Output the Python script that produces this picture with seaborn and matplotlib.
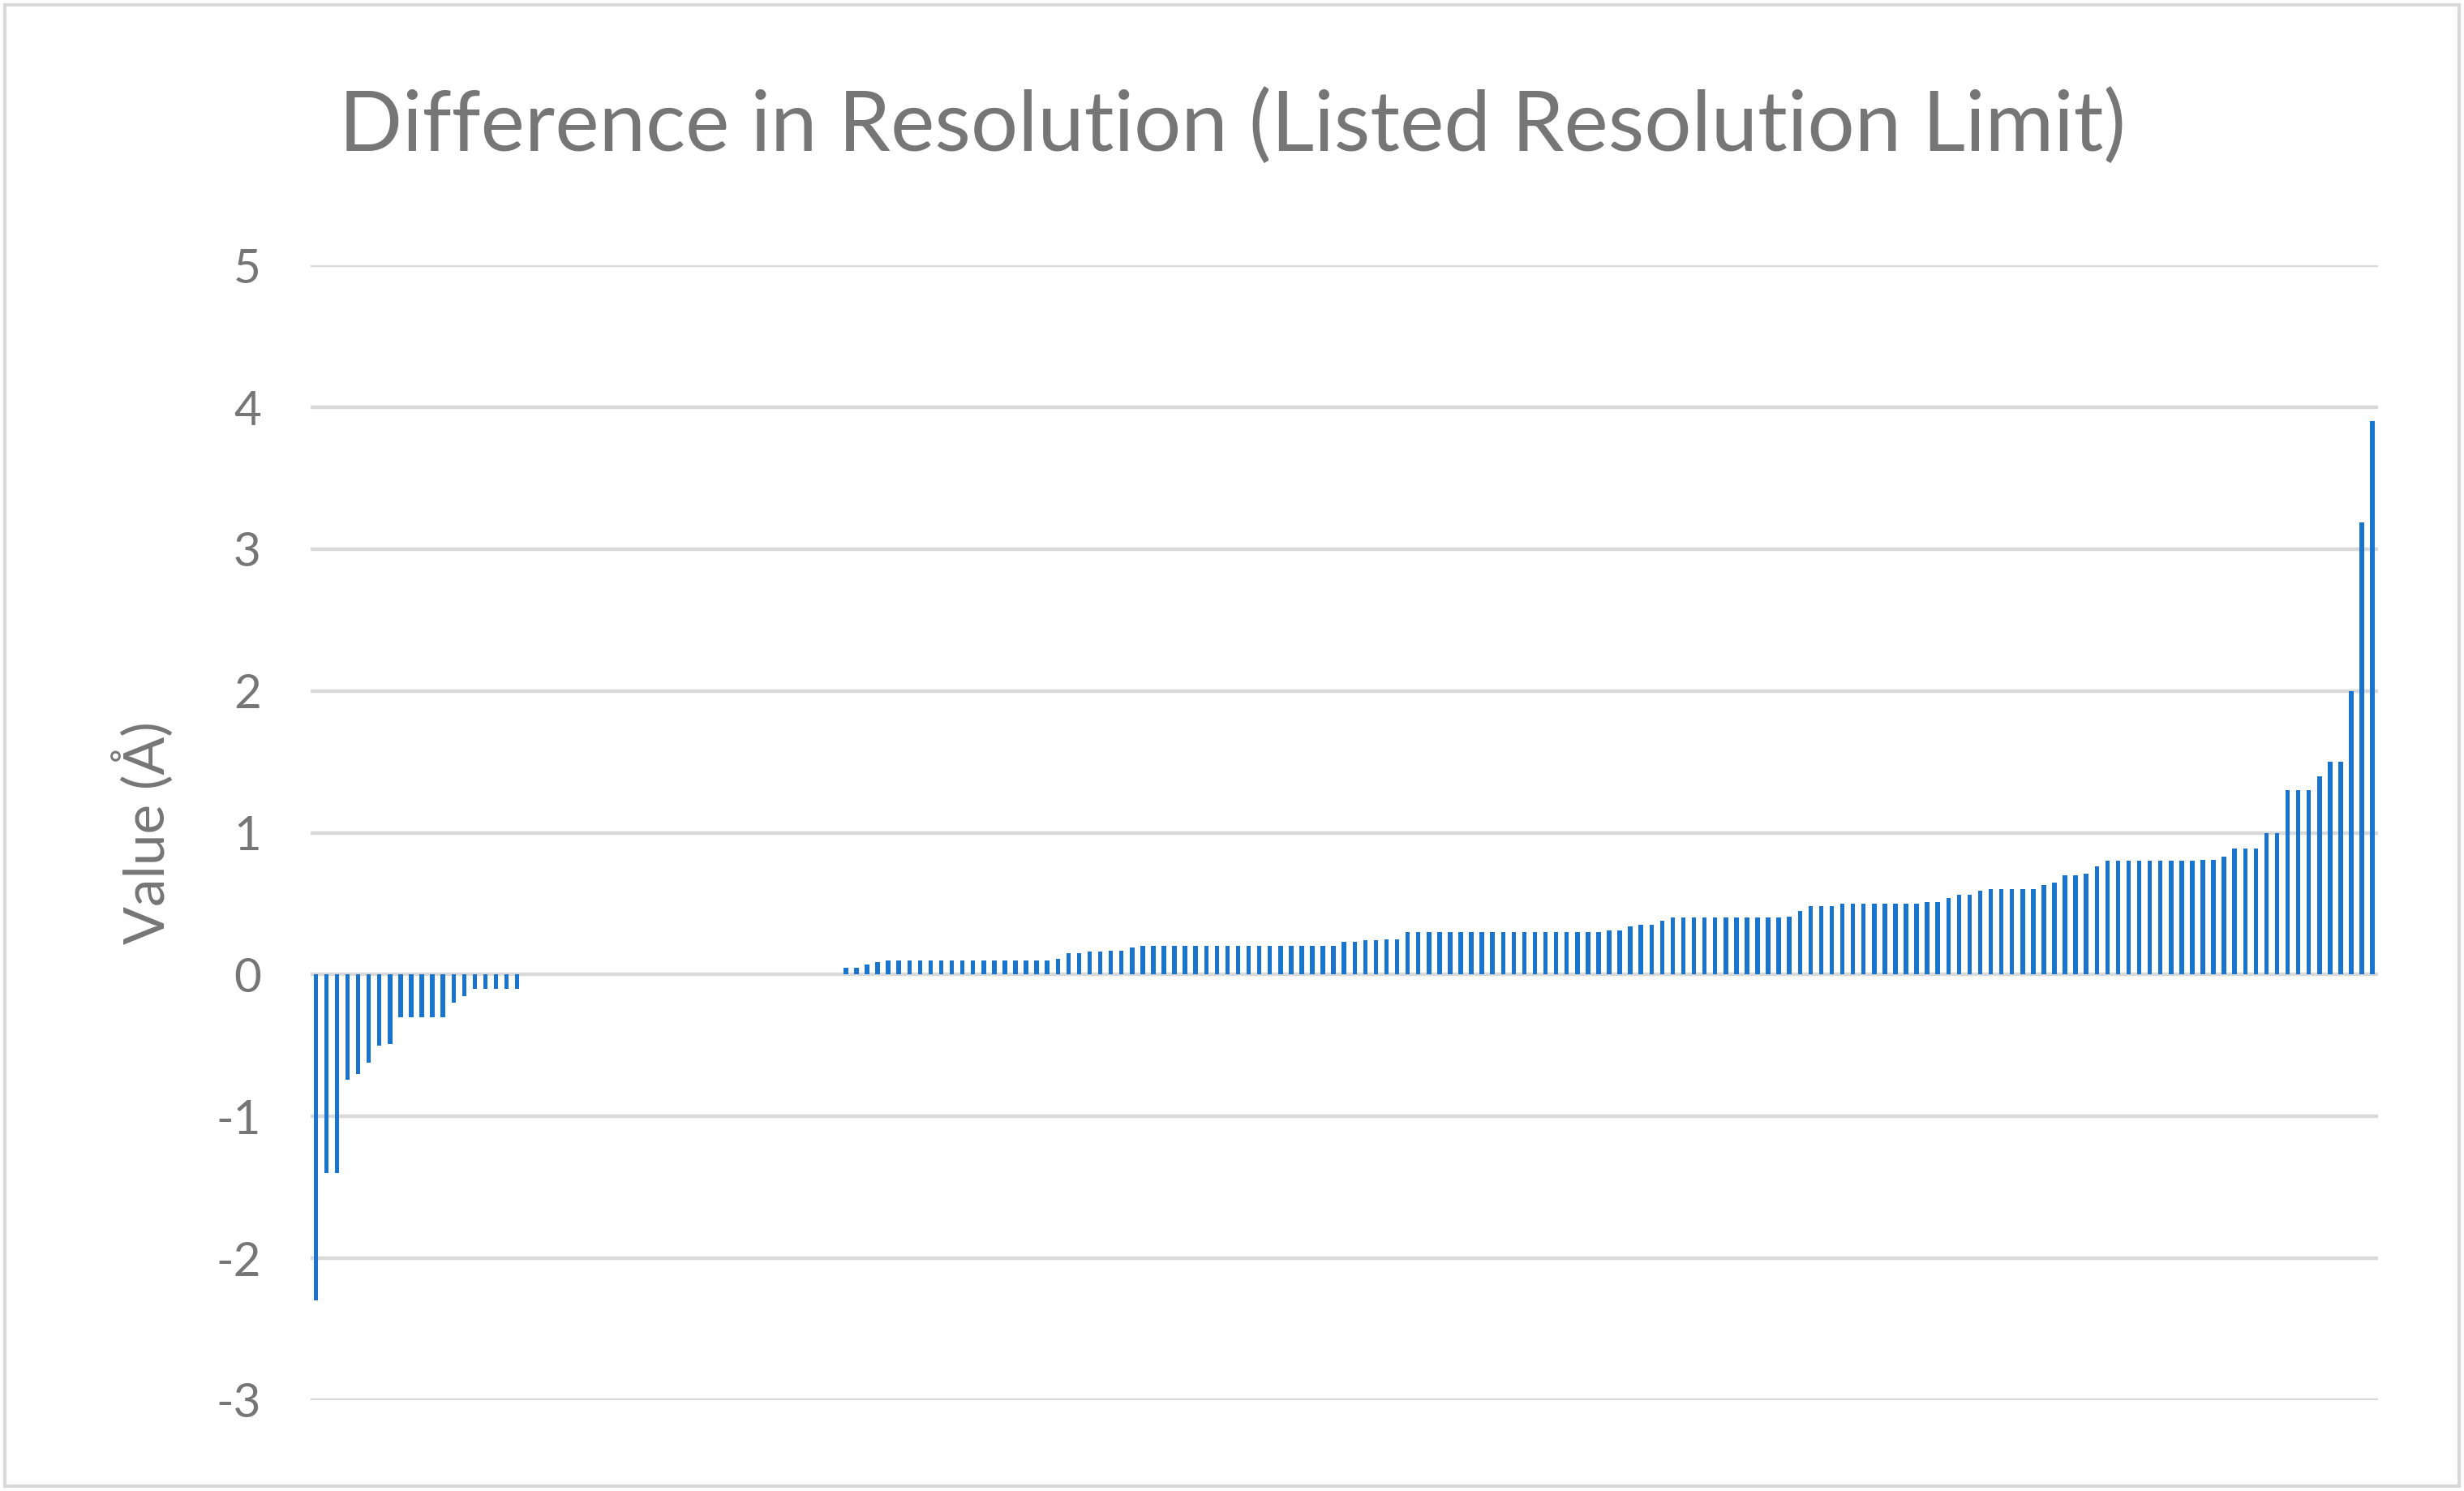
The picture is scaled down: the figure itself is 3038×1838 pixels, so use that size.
import matplotlib
matplotlib.use("Agg")
import matplotlib.pyplot as plt
import seaborn as sns
import pandas as pd
import numpy as np

negative_values = [-2.3, -1.4, -1.4, -0.74, -0.70, -0.62, -0.50, -0.49,
                   -0.3, -0.3, -0.3, -0.3, -0.3, -0.2, -0.15,
                   -0.1, -0.1, -0.1, -0.1, -0.1]
zero_values = [0.0] * 30
low_values = ([0.05, 0.05, 0.07, 0.09] + [0.1] * 16 + [0.11, 0.15, 0.15, 0.16, 0.16,
              0.17, 0.17, 0.19] + [0.2] * 19)
mid_values = ([0.23, 0.23, 0.24, 0.24, 0.25, 0.25] + [0.3] * 19 + [0.31, 0.31, 0.34,
              0.35, 0.35, 0.38] + [0.4] * 11 + [0.41, 0.45, 0.48, 0.48, 0.48])
high_values = ([0.5] * 8 + [0.51, 0.51, 0.54, 0.56, 0.56, 0.59] + [0.6] * 5 +
               [0.63, 0.65, 0.70, 0.70, 0.71, 0.76] + [0.8] * 9 +
               [0.81, 0.81, 0.83, 0.89, 0.89, 0.89, 1.0, 1.0, 1.3, 1.3, 1.3,
                1.4, 1.5, 1.5, 2.0, 3.19, 3.9])
values = negative_values + zero_values + low_values + mid_values + high_values
y_ticks = [-3, -2, -1, 0, 1, 2, 3, 4, 5]

df = pd.DataFrame({"idx": np.arange(len(values)), "value": values})

sns.set_theme(style="white")
plt.rcParams["font.family"] = ["Lato", "DejaVu Sans"]
text_color = "#767676"

fig = plt.figure(figsize=(15.19, 9.19), dpi=200)
ax = fig.add_axes([0.126, 0.061, 0.839, 0.761])
sns.barplot(data=df, x="idx", y="value", color="#1874cd", saturation=1,
            width=0.42, linewidth=0, ax=ax, zorder=3)
ax.set_ylim(-3, 5)
ax.set_yticks(y_ticks)
ax.set_yticklabels([str(t) for t in y_ticks], fontsize=21, color=text_color)
ax.tick_params(axis="y", length=0, pad=22)
ax.set_xticks([])
ax.set_xlabel("")
ax.set_ylabel("Value (Å)", fontsize=25, color=text_color, labelpad=18)
ax.grid(axis="y", color="#d9d9d9", linewidth=1.6, zorder=0)
ax.set_axisbelow(True)
for s in ax.spines.values():
    s.set_visible(False)

fig.text(0.5, 0.915, "Difference in Resolution (Listed Resolution Limit)",
         ha="center", va="center", fontsize=37, color=text_color)
fig.patches.append(plt.Rectangle((0.002, 0.003), 0.996, 0.994, transform=fig.transFigure,
                                 fill=False, edgecolor="#d9d9d9", linewidth=1.5))
fig.savefig("out.png", dpi=200)
